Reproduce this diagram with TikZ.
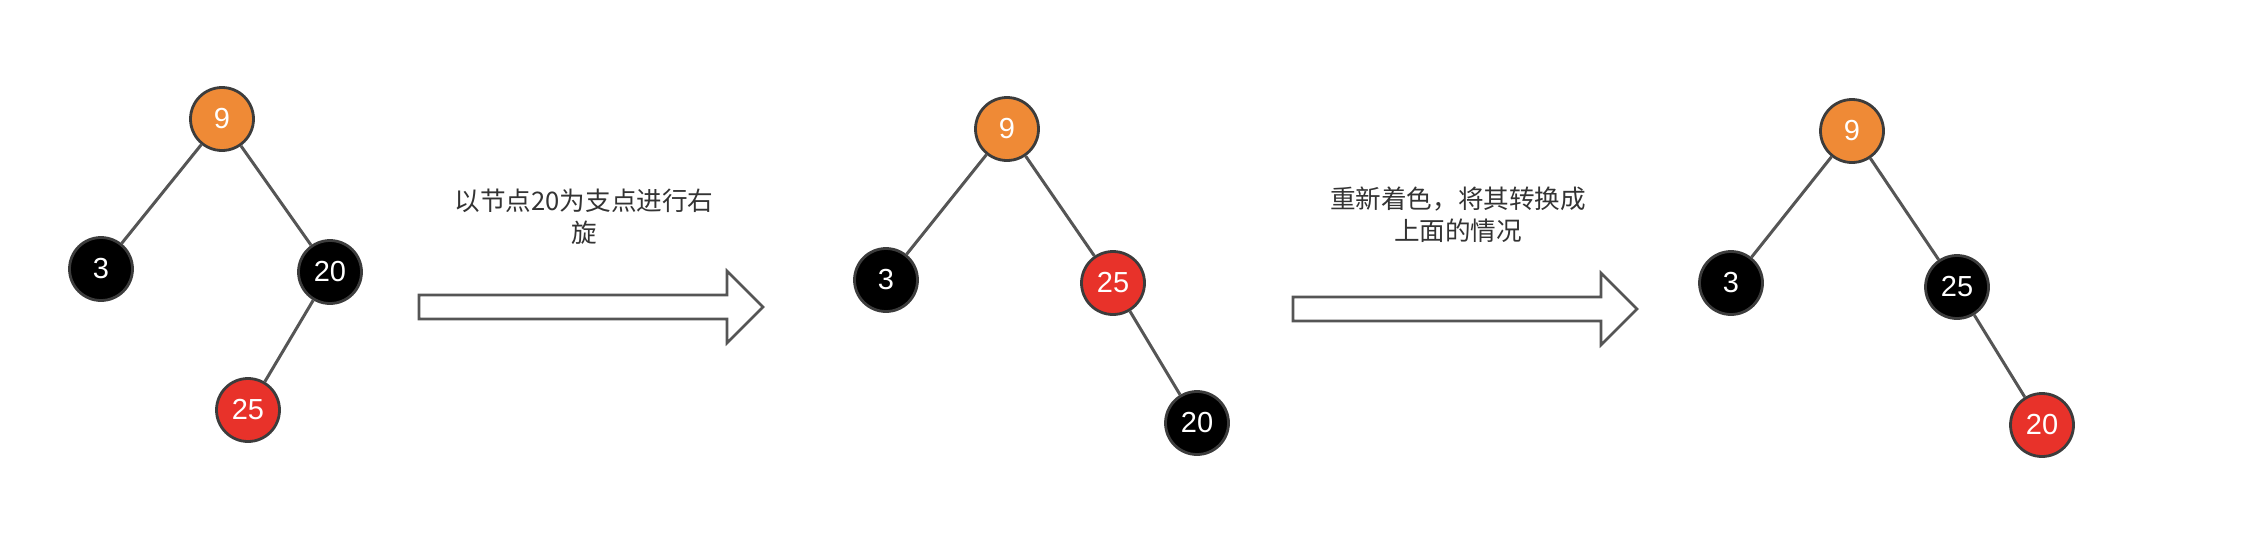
\documentclass[tikz,border=0pt]{standalone}
\usepackage{fontspec}
\setmainfont{Liberation Sans}
\newfontfamily\cjk{Noto Sans CJK SC}
\usepackage{xcolor}
\usepackage{tikz}
\definecolor{rbOrange}{HTML}{EF8A36}
\definecolor{rbRed}{HTML}{E8322A}
\definecolor{rbRim}{HTML}{3C3C3C}
\definecolor{rbLine}{HTML}{555555}
\definecolor{rbText}{HTML}{333333}
\tikzset{
  rbline/.style={rbLine, line width=1.5pt},
  caption/.style={font=\cjk\fontsize{12.8}{16}\selectfont, text=rbText, align=center}
}
\newcommand{\rbnode}[4]{\node [circle, draw=rbRim, line width=1.4pt, fill=#3, text=white, minimum size=31.5pt, inner sep=0pt, font=\fontsize{14.5}{16}\selectfont] (#1) at (#2) {#4}}
\newcommand{\bigarrow}[1]{\draw [rbLine, line width=1.3pt, line join=miter] (#1) -- ++(308,0) -- ++(0,-24) -- ++(36,36) -- ++(-36,36) -- ++(0,-24) -- ++(-308,0) -- cycle}

\begin{document}
\begin{tikzpicture}[x=0.5pt,y=-0.5pt]
    \useasboundingbox (0,0) rectangle (2244,536);

    % before the rotation
    \rbnode{a9}{222,119}{rbOrange}{9};
    \rbnode{a3}{101,269}{black}{3};
    \rbnode{a20}{330,272}{black}{20};
    \rbnode{a25}{248,410}{rbRed}{25};

    \draw[rbline] (a9) -- (a3);
    \draw[rbline] (a9) -- (a20);
    \draw[rbline] (a20) -- (a25);

    \bigarrow{419,295};
    \node[caption] (rotatetext) at (584,217) {以节点20为支点进行右\\旋};

    % after the rotation
    \rbnode{b9}{1007,129}{rbOrange}{9};
    \rbnode{b3}{886,280}{black}{3};
    \rbnode{b25}{1113,283}{rbRed}{25};
    \rbnode{b20}{1197,423}{black}{20};

    \draw[rbline] (b9) -- (b3);
    \draw[rbline] (b9) -- (b25);
    \draw[rbline] (b25) -- (b20);

    \bigarrow{1293,297};
    \node[caption] (recolortext) at (1458,215) {重新着色，将其转换成\\上面的情况};

    % after recolouring
    \rbnode{c9}{1852,131}{rbOrange}{9};
    \rbnode{c3}{1731,283}{black}{3};
    \rbnode{c25}{1957,287}{black}{25};
    \rbnode{c20}{2042,425}{rbRed}{20};

    \draw[rbline] (c9) -- (c3);
    \draw[rbline] (c9) -- (c25);
    \draw[rbline] (c25) -- (c20);
  \end{tikzpicture}
\end{document}
